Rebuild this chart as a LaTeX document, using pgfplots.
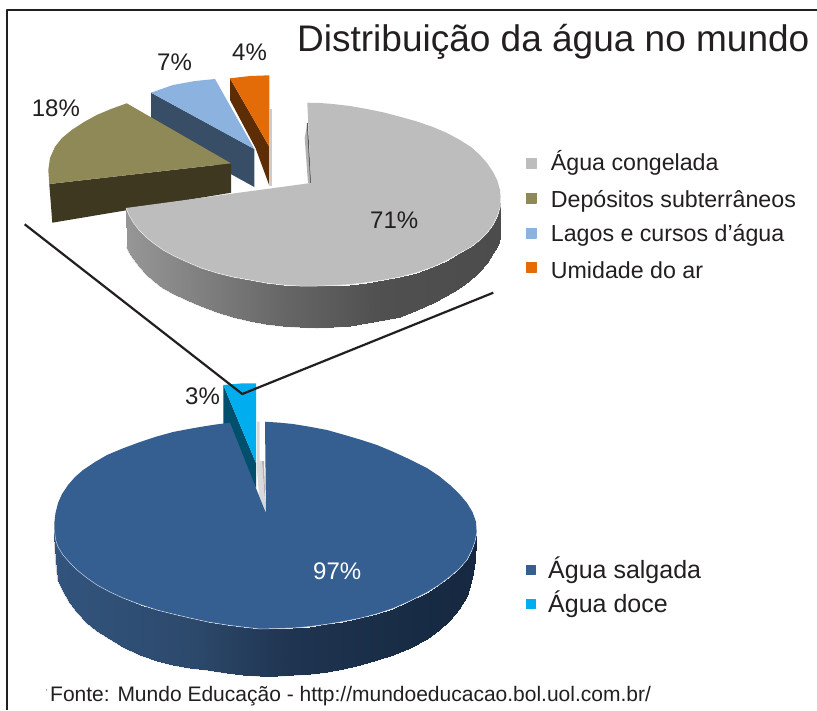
\documentclass[border=0pt]{standalone}
\usepackage{pgfplots}
\pgfplotsset{compat=1.18}
\usepackage{pgfplotstable}
\usepackage{fontspec}
\setmainfont{Liberation Sans}
\definecolor{ink}{HTML}{231F20}
\definecolor{gtop}{HTML}{BDBDBD}
\definecolor{otop}{HTML}{8F8957}
\definecolor{ofront}{HTML}{3E3820}
\definecolor{ltop}{HTML}{8CB2E0}
\definecolor{lwall}{HTML}{384D66}
\definecolor{utop}{HTML}{E36C09}
\definecolor{uwall}{HTML}{5D2E05}
\definecolor{btop}{HTML}{365F91}
\definecolor{ctop}{HTML}{00AEEF}
\definecolor{cwall}{HTML}{004F6D}
\pgfplotsset{
 colormap={graywall}{rgb255(0pt)=(171,171,171);rgb255(73pt)=(146,146,146);rgb255(153pt)=(117,117,117);rgb255(193pt)=(102,102,102);rgb255(273pt)=(80,80,80);rgb255(373pt)=(76,76,76)},
 colormap={bluewall}{rgb255(0pt)=(50,84,125);rgb255(126pt)=(45,74,109);rgb255(226pt)=(31,52,80);rgb255(346pt)=(23,43,68);rgb255(423pt)=(22,39,63)}
}
\pgfplotstableread{
x y
500.7 198
500.3 207
497.5 216
493 225
487 233
480 240
471 247
460 253
447 260.5
433 267
417 272.5
400 277
384 280
367 282.5
350 284.5
333 285.5
317 286
300 286
283 285
266 283
250 280
233 277
217 273
201 268
187 262
174 256
163 250
154 243.5
147 238
139 230
133 222
129 215
126 208
500 233
499.5 238
497.5 245
493 253
487 263
478 273
469 281
458 289
446 296
433 303
417 310
400 317
384 320
367 323
350 325.5
333 327
317 327.5
300 327
283 326
266 324
250 321
233 317
217 312
201 306
187 300
174 294
163 288
154 281
147 275
139 266
133 258
129 252
127 247
}\graywall
\pgfplotstableread{
x y
476.7 533
475 541.7
472 550
467 560
459 569
450 576.7
439 585
427 592.5
410 601
393 608.5
377 613.8
360 618.2
343 621.5
327 624.2
310 626.5
293 628
277 628.5
260 629
243 627
227 625
208 622
190 618
173 614
157 610
140 604.5
123 598
110 592
97 585
87 578
77 570
70 563
63 555
58 547
55.7 540
54.3 530
476 540
474.5 560
472 578
467 596
459 609
450 620
439 630
427 638.5
410 647.5
393 655
377 660
360 665
343 669
327 672
310 674
293 675
277 676
260 676
243 674.5
227 673
208 670
190 668
173 665
157 660.5
140 655
123 647
110 639
97 631
87 623
77 612
70 603
63 591
58 580
55.7 560
54.5 535
}\bluewalltab
\newcommand{\txt}[4]{\node[anchor=base west,inner sep=0pt,text=#4,font=\fontsize{#3}{#3}\selectfont] at (axis cs:#1) {#2};}
\begin{document}
\begin{tikzpicture}
\begin{axis}[
 scale only axis,width=817pt,height=710pt,
 xmin=0,xmax=817,ymin=0,ymax=710,y dir=reverse,
 hide axis,
 every axis plot/.append style={line join=round},
]
% page and frame
\addplot[fill=white,draw=none,forget plot] coordinates {(0,0)(817,0)(817,710)(0,710)};
\addplot[ink,line width=2.6pt,forget plot] coordinates {(7,710)(7,10)(817,10)};
% orange wedge
\addplot[fill=uwall,draw=none] coordinates {(230,78.3)(269.3,146.7)(269.3,185.5)(255.5,148)(230,100)};
\addplot[fill=utop,draw=none] coordinates {(230,78.3)(250,76)(269.3,75.3)(269.3,146.7)};
\addplot[fill=gray!40,draw=none] coordinates {(269.3,109)(272,109)(272,186)(269.3,186)};
% light blue wedge
\addplot[fill=lwall,draw=none] coordinates {(151,92.7)(254.3,149)(254.3,187)(151,130)};
\addplot[fill=ltop,draw=none] coordinates {(151,92.7)(173,85)(195,81)(215,79)(254.3,149)};
% olive wedge
\addplot[fill=ofront,draw=none] coordinates {(49.3,184)(231,163.3)(231,192.7)(52.3,222.7)};
\addplot[fill=otop,draw=none] coordinates {(49.3,184)(48.3,170)(50,158)(55,146.7)(62,138)(71.7,130)(84,122)(96.7,115)(111,109)(126.7,103.3)(231,163.3)};
% grey pie
\addplot[fill=gray!60,draw=none] coordinates {(304.7,138)(307.3,123)(311,183)(308,183)};
\addplot[draw=black!65,line width=1pt] coordinates {(307.3,123)(310.7,183)};
\addplot[draw=gray!35,line width=1.6pt] table[x=x,y=y,skip coords between index={0}{33}]{\graywall};
\addplot[surf,shader=interp,colormap name=graywall,mesh/rows=2,point meta=x,point meta min=127,point meta max=500] table[x=x,y=y]{\graywall};
\addplot[fill=gtop,draw=none] coordinates {(307.3,102.7)(320,103)(333,104)(350,106)(367,109)(384,112.5)(400,116.7)(417,121.5)(433,127)(447,133)(460,140)(471,147)(480,155)(487,163)(493,172)(497.5,181)(500,190)(500.7,198)(500.3,207)(497.5,216)(493,225)(487,233)(480,240)(471,247)(460,253)(447,260.5)(433,267)(417,272.5)(400,277)(384,280)(367,282.5)(350,284.5)(333,285.5)(317,286)(300,286)(283,285)(266,283)(250,280)(233,277)(217,273)(201,268)(187,262)(174,256)(163,250)(154,243.5)(147,238)(139,230)(133,222)(129,215)(126,208)(311,183)};
\addplot[draw=white!85!gray,line width=.5pt] table[x=x,y=y,skip coords between index={33}{66}]{\graywall};
% cyan wedge
\addplot[fill=cwall,draw=none] coordinates {(223.3,385)(256,463)(256,488)(223.3,425)};
\addplot[fill=ctop,draw=none] coordinates {(223.3,385)(240,383.5)(256,383.3)(256,463)};
\addplot[fill=gray!30,draw=none] coordinates {(257,421.7)(259.5,421.7)(259.5,461)(262,461)(265.5,513)(259,495)(257,470)};
\addplot[fill=gray!60,draw=none] coordinates {(262,461)(264,461)(265.7,513)};
% big pie
\addplot[draw=gray!35,line width=1.6pt] table[x=x,y=y,skip coords between index={0}{35}]{\bluewalltab};
\addplot[surf,shader=interp,colormap name=bluewall,mesh/rows=2,point meta=x,point meta min=54,point meta max=477] table[x=x,y=y]{\bluewalltab};
\addplot[fill=btop,draw=none] coordinates {(265,421.7)(280,422.7)(293,424)(310,426.8)(327,430)(343,434.5)(360,439.5)(377,445)(393,451.7)(410,459.5)(427,468)(439,476)(450,485)(459,493.5)(467,503)(472.5,512)(476,521.7)(476.7,533)(475,541.7)(472,550)(467,560)(459,569)(450,576.7)(439,585)(427,592.5)(410,601)(393,608.5)(377,613.8)(360,618.2)(343,621.5)(327,624.2)(310,626.5)(293,628)(277,628.5)(260,629)(243,627)(227,625)(208,622)(190,618)(173,614)(157,610)(140,604.5)(123,598)(110,592)(97,585)(87,578)(77,570)(70,563)(63,555)(58,547)(55.7,540)(54.3,530)(54.3,523)(55.5,513)(58,503)(62,494)(68,485)(75,477)(83,470)(95,462)(107,455)(123,448.3)(140,442)(156,436.7)(173,432)(187,429.3)(200,427)(215,424.6)(230,422.7)(266,513.3)};
\addplot[draw=white!70!btop,line width=.5pt] table[x=x,y=y,skip coords between index={35}{70}]{\bluewalltab};
% connecting lines
\addplot[ink,line width=2.2pt] coordinates {(24.7,224.3)(242.3,394)(493.3,292.7)};
% legend squares
\addplot[only marks,mark=square*,mark size=5pt,gtop,mark options={draw=gtop,fill=gtop,line width=.2pt}] coordinates {(530.7,163.3)};
\addplot[only marks,mark=square*,mark size=5pt,otop,mark options={draw=otop,fill=otop,line width=.2pt}] coordinates {(530.7,197.7)};
\addplot[only marks,mark=square*,mark size=5pt,ltop,mark options={draw=ltop,fill=ltop,line width=.2pt}] coordinates {(530.7,232.7)};
\addplot[only marks,mark=square*,mark size=5pt,utop,mark options={draw=utop,fill=utop,line width=.2pt}] coordinates {(530.7,267.3)};
\addplot[only marks,mark=square*,mark size=4.5pt,btop,mark options={draw=btop,fill=btop,line width=.2pt}] coordinates {(530.5,570)};
\addplot[only marks,mark=square*,mark size=4.5pt,ctop,mark options={draw=ctop,fill=ctop,line width=.2pt}] coordinates {(530.5,604)};
% texts
\txt{297,51.7}{Distribuição da água no mundo}{37}{ink}
\txt{31.7,116}{18\%}{24}{ink}
\txt{157,70}{7\%}{24}{ink}
\txt{232,60}{4\%}{24}{ink}
\txt{370,228}{71\%}{24}{ink}
\txt{313,579}{97\%}{24}{white}
\txt{185,404}{3\%}{24}{ink}
\txt{550.7,170.7}{Água congelada}{23.2}{ink}
\txt{550.7,207.3}{Depósitos subterrâneos}{23.2}{ink}
\txt{550.7,241.7}{Lagos e cursos d’água}{23.2}{ink}
\txt{550.7,278.3}{Umidade do ar}{23.2}{ink}
\txt{548,578}{Água salgada}{25}{ink}
\txt{548,612}{Água doce}{25}{ink}
\txt{45.5,696}{'}{10}{gray}
\txt{50,701.7}{Fonte: Mundo Educação - http://mundoeducacao.bol.uol.com.br/}{21}{ink}
\end{axis}
\end{tikzpicture}
\end{document}
